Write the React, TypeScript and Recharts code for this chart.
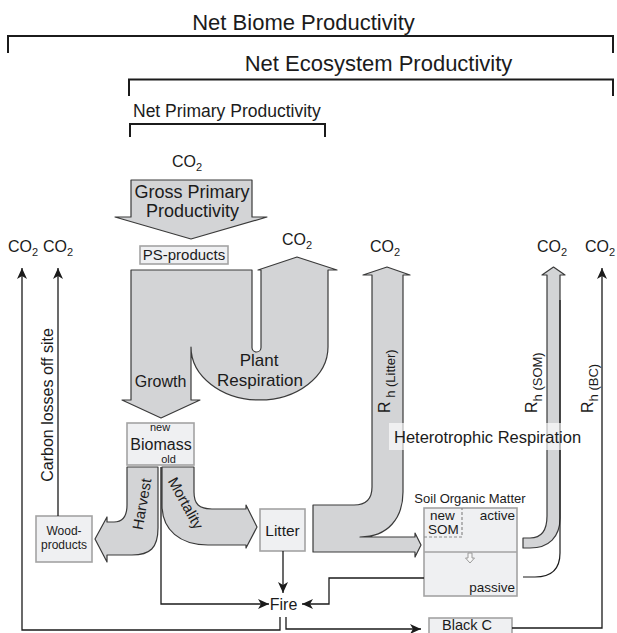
import React from 'react';
import { ScatterChart, Scatter, XAxis, YAxis } from 'recharts';

const W = 617;
const H = 633;
const FONT = '"Liberation Sans", Arial, Helvetica, sans-serif';
const INK = '#1b1b1b';
const FLOW_FILL = '#d3d4d6';
const FLOW_EDGE = '#3a3a3a';
const BOX_FILL = '#eff0f2';
const BOX_EDGE = '#a3a3a3';

// brackets of the three productivity terms (diagram units)
const brackets = [
  [{ x: 8, y: 53 }, { x: 8, y: 36 }, { x: 613, y: 36 }, { x: 613, y: 53 }],
  [{ x: 129, y: 96 }, { x: 129, y: 79.5 }, { x: 613, y: 79.5 }, { x: 613, y: 96 }],
  [{ x: 130, y: 137 }, { x: 130, y: 124 }, { x: 325, y: 124 }, { x: 325, y: 137 }],
];

const titles = [
  { x: 303.5, y: 29.5, t: 'Net Biome Productivity', size: 22, anchor: 'middle' },
  { x: 378.5, y: 71, t: 'Net Ecosystem Productivity', size: 22, anchor: 'middle' },
  { x: 133, y: 116.5, t: 'Net Primary Productivity', size: 17.5, anchor: 'start' },
];

// CO2 sinks / sources
const co2Labels = [
  { x: 172, y: 166.5 },
  { x: 8, y: 252 },
  { x: 43, y: 252 },
  { x: 282, y: 245 },
  { x: 370, y: 252 },
  { x: 537, y: 252 },
  { x: 585, y: 252 },
];

// broad carbon flows (anchor = first point of outline)
const flows = [
  { name: 'gpp', x: 131, y: 180, d: 'M131,180 L252,180 L252,217 L267,217 L191,239 L115,217 L131,217 Z' },
  {
    name: 'growth-respiration', x: 131, y: 270,
    d: 'M131,270 L252,270 L252,347.5 A4.5,4.5 0 0 0 261,347.5 L261,270 L258,270 L297,257 L337,270 L328,270 L328,347 A68.5,53 0 0 1 191,347 L191,400 L200,400 L161,418 L122,400 L131,400 Z',
  },
  {
    name: 'harvest', x: 127, y: 467,
    d: 'M127,467 L158,467 L158,528 C158,548 150,555 132,555 L107,555 L107,562 L95,539 L107,517 L107,522 L114,522 C123,522 127,516 127,505 Z',
  },
  {
    name: 'mortality', x: 162, y: 467,
    d: 'M162,467 L194,467 L194,492 C194,504 199,509 212,509 L246,509 L246,505 L257,527 L246,548 L246,545 L208,545 C180,545 162,530 162,505 Z',
  },
  {
    name: 'litter', x: 313, y: 505,
    d: 'M313,505 L354,505 C366,505 372,499 372,487 L372,275 L363,275 L387,267 L410,275 L403,275 L403,492 C403,518 388,537 360,537 L415,537 L415,533 L421,545 L415,557 L415,552 L313,552 Z',
  },
  {
    name: 'som', x: 523, y: 538,
    d: 'M523,538 L530,538 C542,538 547,530 547,516 L547,275 L542,275 L553.5,267 L565,275 L560,275 L560,518 C560,537 549,548 530,548 L523,548 Z',
  },
];

const passiveCurve = [{ x: 560, y: 300, d: 'M560,300 L560,553 C560,569 551,577 535,577 L523,577' }];
const somArrow = [{ x: 468, y: 553, d: 'M468,553 L472,553 L472,558 L474.5,558 L470,563 L465.5,558 L468,558 Z' }];

// pools
const boxes = [
  { x: 140, y: 246, w: 88, h: 18 },
  { x: 127, y: 423, w: 67, h: 42 },
  { x: 36, y: 516, w: 56, h: 46 },
  { x: 260, y: 509, w: 45, h: 42 },
  { x: 424, y: 508, w: 93, h: 88 },
  { x: 429, y: 618, w: 83, h: 30 },
];
const somDivider = [{ x: 424, y: 552 }, { x: 517, y: 552 }];
const newSom = [{ x: 424, y: 537 }, { x: 462, y: 537 }, { x: 462, y: 508 }];
const hetBox = [{ x: 389, y: 423, w: 204, h: 27 }];

// thin connectors, last point carries the arrow head
const connectors = [
  [{ x: 280, y: 617 }, { x: 280, y: 630 }, { x: 22, y: 630 }, { x: 22, y: 268, head: 0 }],
  [{ x: 58, y: 516 }, { x: 58, y: 268, head: 0 }],
  [{ x: 161, y: 467 }, { x: 161, y: 604 }, { x: 269, y: 604, head: 90 }],
  [{ x: 283, y: 551 }, { x: 283, y: 593, head: 180 }],
  [{ x: 424, y: 578 }, { x: 329, y: 578 }, { x: 329, y: 604 }, { x: 302, y: 604, head: 270 }],
  [{ x: 286, y: 617 }, { x: 286, y: 629 }, { x: 421, y: 629, head: 90 }],
  [{ x: 512, y: 628 }, { x: 602, y: 628 }, { x: 602, y: 268, head: 0 }],
];

const labels = [
  { x: 192, y: 198, t: 'Gross Primary', size: 18, anchor: 'middle' },
  { x: 192.5, y: 216.5, t: 'Productivity', size: 18, anchor: 'middle' },
  { x: 184, y: 259.5, t: 'PS-products', size: 15, anchor: 'middle' },
  { x: 259, y: 366, t: 'Plant', size: 17, anchor: 'middle' },
  { x: 260, y: 385.5, t: 'Respiration', size: 17, anchor: 'middle' },
  { x: 160.5, y: 386.5, t: 'Growth', size: 16, anchor: 'middle' },
  { x: 160, y: 431, t: 'new', size: 11, anchor: 'middle' },
  { x: 161, y: 450, t: 'Biomass', size: 16, anchor: 'middle' },
  { x: 168.5, y: 463, t: 'old', size: 11, anchor: 'middle' },
  { x: 141.5, y: 504, t: 'Harvest', size: 15, anchor: 'middle', rot: -80, mid: true },
  { x: 186, y: 503, t: 'Mortality', size: 15, anchor: 'middle', rot: 61, mid: true },
  { x: 64, y: 534.5, t: 'Wood-', size: 12, anchor: 'middle' },
  { x: 64, y: 549, t: 'products', size: 12, anchor: 'middle' },
  { x: 282.5, y: 536, t: 'Litter', size: 15.5, anchor: 'middle' },
  { x: 283.5, y: 610, t: 'Fire', size: 16, anchor: 'middle' },
  { x: 470, y: 502.5, t: 'Soil Organic Matter', size: 13, anchor: 'middle' },
  { x: 430, y: 520, t: 'new', size: 13.5, anchor: 'start' },
  { x: 428, y: 534, t: 'SOM', size: 13.5, anchor: 'start' },
  { x: 515, y: 520, t: 'active', size: 13.5, anchor: 'end' },
  { x: 515, y: 592, t: 'passive', size: 13.5, anchor: 'end' },
  { x: 442, y: 630, t: 'Black C', size: 14.5, anchor: 'start' },
  { x: 394, y: 443, t: 'Heterotrophic Respiration', size: 16.5, anchor: 'start' },
  { x: 53, y: 405, t: 'Carbon losses off site', size: 16, anchor: 'middle', rot: -90 },
];

const respLabels = [
  { x: 390, y: 413, sub: ' h (Litter)' },
  { x: 537, y: 413, sub: 'h (SOM)' },
  { x: 593, y: 413, sub: 'h (BC)' },
];

const pathShape = (fill: string, stroke: string, width: number) => (p: any) => (
  <path
    d={p.payload.d}
    transform={`translate(${p.cx - p.payload.x},${p.cy - p.payload.y})`}
    fill={fill}
    stroke={stroke}
    strokeWidth={width}
    strokeLinejoin="round"
  />
);

const boxShape = (fill: string, stroke: string, width: number, opacity = 1) => (p: any) => (
  <rect x={p.cx} y={p.cy} width={p.payload.w} height={p.payload.h} fill={fill} fillOpacity={opacity} stroke={stroke} strokeWidth={width} />
);

const textShape = (p: any) => {
  const d = p.payload;
  return (
    <text
      x={p.cx}
      y={p.cy}
      fontFamily={FONT}
      fontSize={d.size}
      fill={INK}
      textAnchor={d.anchor}
      dominantBaseline={d.mid ? 'central' : undefined}
      transform={d.rot ? `rotate(${d.rot},${p.cx},${p.cy})` : undefined}
    >
      {d.t}
    </text>
  );
};

const co2Shape = (p: any) => (
  <text x={p.cx} y={p.cy} fontFamily={FONT} fontSize={16} fill={INK}>
    CO<tspan fontSize={11} dy={4}>2</tspan>
  </text>
);

const respShape = (p: any) => (
  <text x={p.cx} y={p.cy} fontFamily={FONT} fontSize={16} fill={INK} transform={`rotate(-90,${p.cx},${p.cy})`}>
    R<tspan fontSize={13} dy={5}>{p.payload.sub}</tspan>
  </text>
);

const headShape = (p: any) => {
  if (p.payload.head === undefined) return <g />;
  return (
    <polygon
      points="0,0 -5,11 0,8 5,11"
      fill={INK}
      transform={`translate(${p.cx},${p.cy}) rotate(${p.payload.head})`}
    />
  );
};

const noShape = () => <g />;

export default function App() {
  return (
    <div style={{ position: 'absolute', left: 0, top: 0, width: W, height: H, background: '#fff' }}>
      <ScatterChart width={W} height={H} margin={{ top: 0, right: 0, bottom: 0, left: 0 }}>
        <XAxis type="number" dataKey="x" domain={[0, W]} allowDataOverflow hide />
        <YAxis type="number" dataKey="y" domain={[0, H]} allowDataOverflow reversed hide />

        {brackets.map((b, i) => (
          <Scatter key={`br${i}`} data={b} line={{ stroke: INK, strokeWidth: 2 }} shape={noShape} isAnimationActive={false} />
        ))}

        <Scatter data={flows} shape={pathShape(FLOW_FILL, FLOW_EDGE, 1.2)} isAnimationActive={false} />
        <Scatter data={passiveCurve} shape={pathShape('none', INK, 1.2)} isAnimationActive={false} />

        <Scatter data={boxes} shape={boxShape(BOX_FILL, BOX_EDGE, 1.6)} isAnimationActive={false} />
        <Scatter data={somDivider} line={{ stroke: BOX_EDGE, strokeWidth: 1.6 }} shape={noShape} isAnimationActive={false} />
        <Scatter data={newSom} line={{ stroke: '#8a8a8a', strokeWidth: 1.2, strokeDasharray: '3 2' }} shape={noShape} isAnimationActive={false} />
        <Scatter data={somArrow} shape={pathShape('#f7f7f7', '#9a9a9a', 1)} isAnimationActive={false} />

        {connectors.map((c, i) => (
          <Scatter key={`cn${i}`} data={c} line={{ stroke: INK, strokeWidth: 1.3 }} shape={headShape} isAnimationActive={false} />
        ))}

        <Scatter data={hetBox} shape={boxShape('#ffffff', 'none', 0, 0.65)} isAnimationActive={false} />

        <Scatter data={titles} shape={textShape} isAnimationActive={false} />
        <Scatter data={co2Labels} shape={co2Shape} isAnimationActive={false} />
        <Scatter data={labels} shape={textShape} isAnimationActive={false} />
        <Scatter data={respLabels} shape={respShape} isAnimationActive={false} />
      </ScatterChart>
    </div>
  );
}
